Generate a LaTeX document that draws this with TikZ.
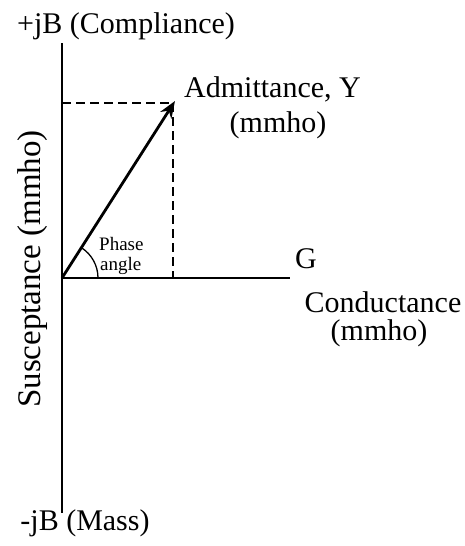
\documentclass[tikz,border=0pt]{standalone}
\usepackage{fontspec}
\setmainfont{Liberation Serif}
\usetikzlibrary{arrows.meta,calc}
\begin{document}
\begin{tikzpicture}[x=1pt,y=-1pt,
  axis/.style={line width=2.6pt},
  guide/.style={line width=1.8pt, dash pattern=on 9pt off 5pt},
  vec/.style={line width=2.8pt,-{Stealth[length=17pt,width=13pt]}},
  lbl/.style={font=\fontsize{30}{34}\selectfont, inner sep=0pt},
  small/.style={font=\fontsize{19}{19}\selectfont, inner sep=0pt}]
\useasboundingbox (0,0) rectangle (465,546);
\coordinate (O) at (62,278);
\coordinate (top) at (62,43);
\coordinate (bot) at (62,513);
\coordinate (right) at (290,278);
\coordinate (Y) at (175,101);
\coordinate (Yb) at (173,278);
\coordinate (Yt) at (173,103);
\coordinate (Yl) at (62,103);
\draw[axis] (top) -- (bot);
\draw[axis] (O) -- (right);
\draw[guide] (Yl) -- (Yt);
\draw[guide] (Yt) -- (Yb);
\draw[vec] (O) -- (Y);
\draw[line width=1.3pt] ($(O)+(36,0)$) arc[start angle=0, end angle=-57.3, radius=36];
\node[lbl, anchor=base] (tl) at (126,33) {+jB (Compliance)};
\node[lbl, anchor=base] (bl) at (85,530) {-jB (Mass)};
\node[lbl, anchor=base west] (adm) at (184,97) {Admittance, Y};
\node[lbl, anchor=base] (adm2) at (278,132) {(mmho)};
\node[lbl, anchor=base west] (g) at (295,268) {G};
\node[lbl, anchor=base] (cond) at (383,312) {Conductance};
\node[lbl, anchor=base] (cond2) at (379,340) {(mmho)};
\node[lbl, rotate=90, font=\fontsize{33}{36}\selectfont] (sus) at (33,269) {Susceptance (mmho)};
\node[small, anchor=base west] (ph) at (99,250) {Phase};
\node[small, anchor=base west] (ang) at (100,270) {angle};
\end{tikzpicture}
\end{document}
